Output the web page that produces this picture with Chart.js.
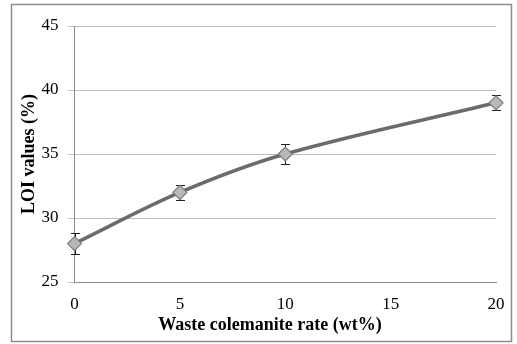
<!DOCTYPE html>
<html>
<head>
<meta charset="utf-8">
<script src="https://cdn.jsdelivr.net/npm/chart.js@4/dist/chart.umd.min.js"></script>
<style>
  html, body { margin: 0; padding: 0; background: #fff; }
  #wrap { width: 517px; height: 344px; }
</style>
</head>
<body>
<div id="wrap"><canvas id="loiChart" width="517" height="344"></canvas></div>
<script>
// values
const wasteRate = [0, 5, 10, 20];
const loiValues = [28, 32, 35, 39];
const loiError = [0.8, 0.6, 0.8, 0.6];
const xTicks = [0, 5, 10, 15, 20];
const yTicks = [25, 30, 35, 40, 45];
const xTitle = "Waste colemanite rate (wt%)";
const yTitle = "LOI values (%)";

const serif = "'Liberation Serif', 'Times New Roman', serif";

// frame, error bars and axis titles
const extras = {
  id: "extras",
  beforeDraw(chart) {
    const c = chart.ctx;
    c.save();
    c.strokeStyle = "#8c8c8c";
    c.lineWidth = 1.5;
    c.strokeRect(11.5, 4.5, 500, 337);
    c.restore();
  },
  beforeDatasetsDraw(chart) {
    const c = chart.ctx;
    const xs = chart.scales.x, ys = chart.scales.y;
    c.save();
    c.strokeStyle = "#222";
    c.lineWidth = 1;
    wasteRate.forEach((v, i) => {
      const px = Math.round(xs.getPixelForValue(v)) + 0.5;
      const top = Math.round(ys.getPixelForValue(loiValues[i] + loiError[i])) + 0.5;
      const bot = Math.round(ys.getPixelForValue(loiValues[i] - loiError[i])) + 0.5;
      c.beginPath();
      c.moveTo(px, top); c.lineTo(px, bot);
      c.moveTo(px - 4.5, top); c.lineTo(px + 4.5, top);
      c.moveTo(px - 4.5, bot); c.lineTo(px + 4.5, bot);
      c.stroke();
    });
    c.restore();
  },
  afterDraw(chart) {
    const c = chart.ctx;
    const a = chart.chartArea;
    c.save();
    c.fillStyle = "#000";
    c.font = "bold 18px " + serif;
    c.textAlign = "center";
    c.textBaseline = "middle";
    c.fillText(xTitle, 270, 325);
    c.translate(29, (a.top + a.bottom) / 2);
    c.rotate(-Math.PI / 2);
    c.fillText(yTitle, 0, 0);
    c.restore();
  }
};

const ctx = document.getElementById("loiChart").getContext("2d");
const chart = new Chart(ctx, {
  type: "scatter",
  data: {
    datasets: [{
      label: "LOI",
      data: wasteRate.map((x, i) => ({ x: x, y: loiValues[i] })),
      showLine: true,
      clip: false,
      tension: 0.35,
      borderColor: "#6b6b6b",
      borderWidth: 3.5,
      pointStyle: "rectRot",
      pointRadius: 7,
      pointBackgroundColor: "#b8b8b8",
      pointBorderColor: "#7a7a7a",
      pointBorderWidth: 1.2
    }]
  },
  options: {
    responsive: false,
    animation: false,
    layout: { padding: { left: 0, top: 26, right: 21, bottom: 0 } },
    plugins: { legend: { display: false }, tooltip: { enabled: false } },
    scales: {
      x: {
        type: "linear",
        min: 0, max: 20,
        afterBuildTicks: (s) => { s.ticks = xTicks.map(v => ({ value: v })); },
        afterFit: (s) => { s.height = 62; },
        grid: { display: false, drawOnChartArea: false, tickLength: 6, color: "#8c8c8c" },
        border: { color: "#8c8c8c", width: 1 },
        ticks: { color: "#000", font: { family: serif, size: 17 }, padding: 6 }
      },
      y: {
        type: "linear",
        min: 25, max: 45,
        afterBuildTicks: (s) => { s.ticks = yTicks.map(v => ({ value: v })); },
        afterFit: (s) => { s.width = 74.5; },
        grid: { color: "#bdbdbd", lineWidth: 1, tickLength: 6, tickColor: "#bdbdbd" },
        border: { color: "#8c8c8c", width: 1 },
        ticks: { color: "#000", font: { family: serif, size: 17 }, padding: 10 }
      }
    }
  },
  plugins: [extras]
});
</script>
</body>
</html>
